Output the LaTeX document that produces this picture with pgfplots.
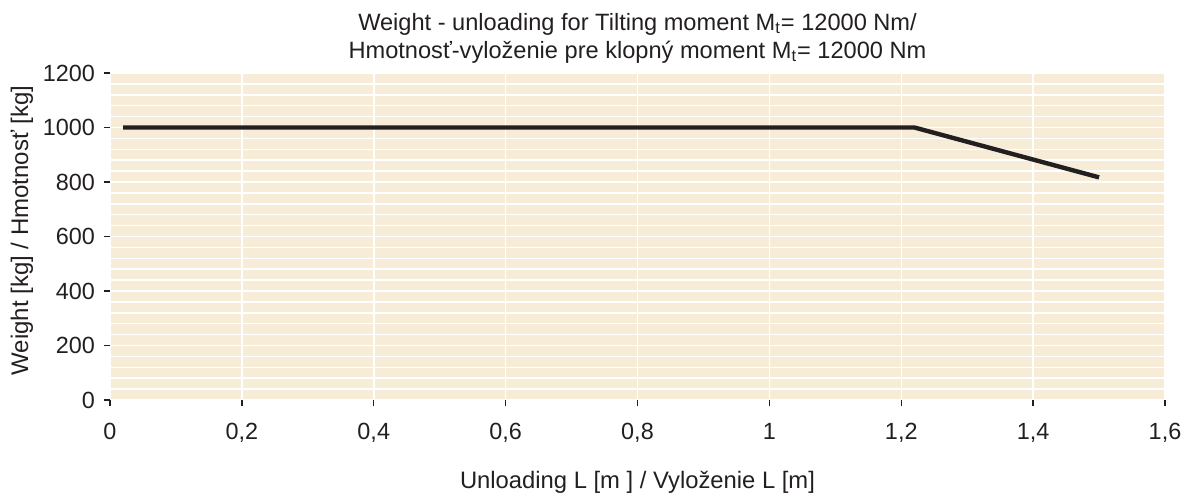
\documentclass[border=0pt]{standalone}
\usepackage{pgfplots}
\pgfplotsset{compat=1.18}
\usepackage{fontspec}
\setmainfont{Liberation Sans}
\definecolor{bgbeige}{HTML}{F6ECD7}
\definecolor{ink}{HTML}{231F20}
\begin{document}
\begin{tikzpicture}
\useasboundingbox (-55pt,-47.5pt) rectangle (542.5pt,200pt);
\begin{axis}[
  scale only axis,
  width=527.5pt, height=163.5pt,
  xmin=0, xmax=1.6, ymin=0, ymax=1200,
  xtick={0,0.2,...,1.6},
  ytick={0,200,...,1200},
  minor y tick num=4,
  axis line style={draw=none},
  axis background/.style={fill=bgbeige},
  xmajorgrids, ymajorgrids, yminorgrids,
  major grid style={white, line width=0.75pt},
  minor grid style={white, line width=0.75pt},
  tick pos=left,
  tick align=outside,
  major tick length=3pt,
  minor tick length=0pt,
  tick style={ink, line width=0.7pt},
  /pgf/number format/assume math mode=true,
  /pgf/number format/use comma,
  /pgf/number format/1000 sep={},
  ticklabel style={font=\fontsize{11.7}{13}\selectfont, text=ink},
  xticklabel style={yshift=-5pt},
  yticklabel style={xshift=-1pt},
  title={Weight - unloading for Tilting moment M\textsubscript{t}= 12000 Nm/\\Hmotnosť-vyloženie pre klopný moment M\textsubscript{t}= 12000 Nm},
  title style={at={(axis description cs:0.5,1)}, anchor=south, yshift=-4.5pt, align=center, font=\fontsize{11.8}{14}\selectfont, text=ink},
  xlabel={Unloading L [m ] / Vyloženie L [m]},
  xlabel style={at={(axis description cs:0.5,0)}, anchor=base, yshift=-44pt, font=\fontsize{11.9}{13}\selectfont, text=ink},
  ylabel={Weight [kg] / Hmotnosť [kg]},
  ylabel style={at={(axis description cs:0,0.5)}, anchor=center, yshift=44pt, xshift=3pt, font=\fontsize{12}{13}\selectfont, text=ink},
  clip=false,
]
\addplot[ink, line width=2.2pt] coordinates {(0.02,1000) (1.22,1000) (1.5,817)};
\end{axis}
\end{tikzpicture}
\end{document}
